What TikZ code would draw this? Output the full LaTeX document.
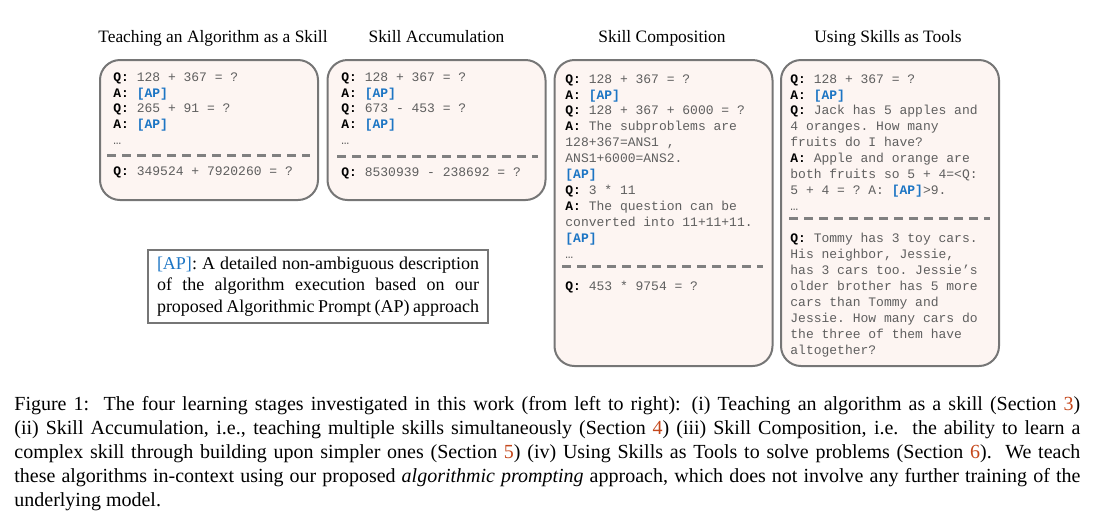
\documentclass[tikz,border=0pt]{standalone}
\usepackage{fontspec}
\setmainfont{Liberation Serif}
\setmonofont{Liberation Mono}
\usetikzlibrary{positioning}

\definecolor{apblue}{RGB}{28,117,196}
\definecolor{boxfill}{RGB}{253,245,242}
\definecolor{boxline}{RGB}{118,118,118}
\definecolor{qgray}{RGB}{95,95,95}
\definecolor{refred}{RGB}{196,72,28}

\newcommand{\qtag}{\textcolor{black}{\textbf{Q:}}}
\newcommand{\atag}{\textcolor{black}{\textbf{A:}}}
\newcommand{\aptag}{\textcolor{apblue}{\textbf{[AP]}}}
\newcommand{\secref}[1]{\textcolor{refred}{#1}}

\begin{document}
\begin{tikzpicture} [x=0.5pt, y=-0.5pt, stage/.style={draw=boxline, line width=1pt, fill=boxfill, rounded corners=10pt, minimum width=109pt}, prompt/.style={anchor=north west, inner sep=0pt, align=left, text=qgray, font=\ttfamily\fontsize{6.5}{7.95}\selectfont}, sep/.style={draw=gray, line width=1.5pt, dash pattern=on 4.5pt off 3pt}, title/.style={anchor=base, font=\fontsize{8.7}{10}\selectfont}]

\useasboundingbox (0,0) rectangle (1094,527);

\node at (209,130) [stage, minimum height=70pt] (teach) {};
\node at (436.5,130) [stage, minimum height=70pt] (accum) {};
\node at (663.5,213) [stage, minimum height=153pt] (compo) {};
\node at (890,213) [stage, minimum height=153pt] (tools) {};

\node at (213,42) [title] {Teaching an Algorithm as a Skill};
\node at (436.5,42) [title] {Skill Accumulation};
\node at (662,42) [title] {Skill Composition};
\node at (888,42) [title] {Using Skills as Tools};

\node at (113,72) [prompt] (teachex) {\qtag{} 128 + 367 = ?\\ \atag{} \aptag\\ \qtag{} 265 + 91 = ?\\ \atag{} \aptag\\ …};
\node at (341,72) [prompt] (accumex) {\qtag{} 128 + 367 = ?\\ \atag{} \aptag\\ \qtag{} 673 - 453 = ?\\ \atag{} \aptag\\ …};
\node at (565,74) [prompt] (compoex) {\qtag{} 128 + 367 = ?\\ \atag{} \aptag\\ \qtag{} 128 + 367 + 6000 = ?\\ \atag{} The subproblems are\\ 128+367=ANS1 ,\\ ANS1+6000=ANS2.\\ \aptag\\ \qtag{} 3 * 11\\ \atag{} The question can be\\ converted into 11+11+11.\\ \aptag\\ …};
\node at (790,74) [prompt] (toolsex) {\qtag{} 128 + 367 = ?\\ \atag{} \aptag\\ \qtag{} Jack has 5 apples and\\ 4 oranges. How many\\ fruits do I have?\\ \atag{} Apple and orange are\\ both fruits so 5 + 4=<Q:\\ 5 + 4 = ? A: \aptag>9.\\ …};

\draw [sep] (107,155) -- (310,155);
\draw [sep] (337,156) -- (538,156);
\draw [sep] (562,266) -- (763,266);
\draw [sep] (789,218) -- (990,218);

\node at (113,166) [prompt] (teachq) {\qtag{} 349524 + 7920260 = ?};
\node at (341,167) [prompt] (accumq) {\qtag{} 8530939 - 238692 = ?};
\node at (565,281) [prompt] (compoq) {\qtag{} 453 * 9754 = ?};
\node at (790,233) [prompt] (toolsq) {\qtag{} Tommy has 3 toy cars.\\ His neighbor, Jessie,\\ has 3 cars too. Jessie’s\\ older brother has 5 more\\ cars than Tommy and\\ Jessie. How many cars do\\ the three of them have\\ altogether?};

\node at (318,286.5) [draw=boxline, line width=0.75pt, text width=161pt, inner xsep=4.5pt, minimum height=36.5pt, align=justify, font=\fontsize{9}{10.8}\selectfont] (apnote) {\textcolor{apblue}{[AP]}: A detailed non-ambiguous description\linebreak of the algorithm execution based on our\linebreak proposed Algorithmic Prompt (AP) approach};

\node at (14,396) [anchor=north west, inner sep=0pt, text width=533pt, align=justify, font=\fontsize{10}{12}\selectfont] (caption) {Figure 1:\ \ The four learning stages investigated in this work (from left to right): (i) Teaching an algorithm as a skill (Section \secref{3})\linebreak (ii) Skill Accumulation, i.e., teaching multiple skills simultaneously (Section \secref{4}) (iii) Skill Composition, i.e.\ \ the ability to learn a\linebreak complex skill through building upon simpler ones (Section \secref{5}) (iv) Using Skills as Tools to solve problems (Section \secref{6}).\ \ We teach\linebreak these algorithms in-context using our proposed \textit{algorithmic prompting} approach, which does not involve any further training of the\linebreak underlying model.};

\end{tikzpicture}
\end{document}
